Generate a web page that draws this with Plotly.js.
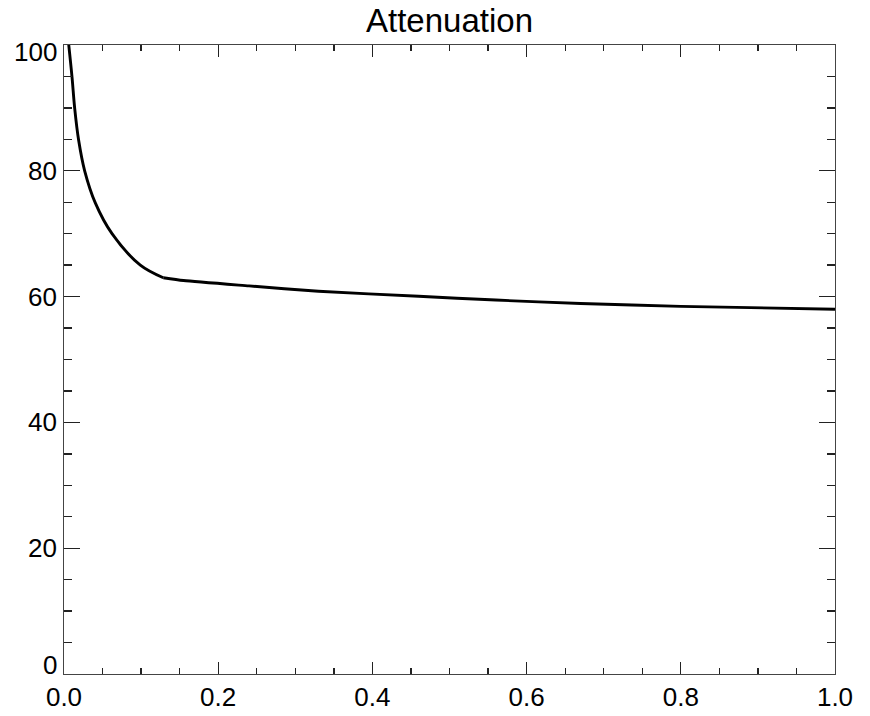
<!DOCTYPE html>
<html>
<head>
<meta charset="utf-8">
<script src="https://cdn.plot.ly/plotly-3.0.1.min.js"></script>
<style>
  html, body { margin: 0; padding: 0; background: #fff; }
  #chart { width: 870px; height: 716px; }
</style>
</head>
<body>
<div id="chart"></div>
<script>
// Steep branch of the attenuation curve, up to the break point
const steepX = [0.0060, 0.0104, 0.0139, 0.0190, 0.0268, 0.0406, 0.0623, 0.0990, 0.1288];
const steepY = [100.2, 94.9, 89.9, 84.85, 80.0, 74.9, 70.0, 65.0, 63.0];

// Slowly decaying branch after the break point
const flatX = [0.1288, 0.155, 0.24, 0.33, 0.46, 0.56, 0.67, 0.80, 1.00];
const flatY = [63.0, 62.55, 61.7, 60.85, 60.05, 59.45, 58.9, 58.45, 58.0];

// Axis tick values and labels
const xTickVals = [0, 0.2, 0.4, 0.6, 0.8, 1.0];
const xTickText = ['0.0', '0.2', '0.4', '0.6', '0.8', '1.0'];
const yTickVals = [0, 20, 40, 60, 80, 100];
const yTickText = ['0', '20', '40', '60', '80', '100'];

const FONT = 'Liberation Sans, Arial, sans-serif';

const traces = [
  { x: steepX, y: steepY, mode: 'lines', hoverinfo: 'skip',
    line: { color: '#000', width: 2.9, shape: 'spline', smoothing: 1 } },
  { x: flatX, y: flatY, mode: 'lines', hoverinfo: 'skip',
    line: { color: '#000', width: 2.9, shape: 'spline', smoothing: 0.6 } }
];

// Y labels drawn as annotations so the end labels can sit inside the frame
const yLabels = yTickVals.map((v, i) => ({
  xref: 'paper', yref: 'y', x: 0, y: v,
  text: yTickText[i], showarrow: false,
  xanchor: 'right', yanchor: 'middle', xshift: -5,
  yshift: v === 100 ? -7 : (v === 0 ? 9 : 0),
  font: { family: FONT, size: 26, color: '#000' }
}));

const layout = {
  width: 870, height: 716,
  margin: { l: 64, r: 35, t: 45, b: 42 },
  paper_bgcolor: '#fff', plot_bgcolor: '#fff',
  showlegend: false,
  font: { family: FONT, color: '#000' },
  title: {
    text: 'Attenuation',
    font: { family: FONT, size: 33, color: '#000' },
    x: 0.5, xref: 'paper', y: 1 - 20 / 716, yref: 'container', yanchor: 'middle'
  },
  xaxis: {
    range: [0, 1], showgrid: false, zeroline: false,
    showline: true, linecolor: '#444', linewidth: 1.2, mirror: 'ticks',
    ticks: 'inside', ticklen: 12, tickwidth: 1.3, tickcolor: '#222',
    tickvals: xTickVals, ticktext: xTickText,
    tickfont: { family: FONT, size: 26, color: '#000' },
    minor: { dtick: 0.05, ticks: 'inside', ticklen: 6, tickwidth: 1.3, tickcolor: '#222', showgrid: false }
  },
  yaxis: {
    range: [0, 100], showgrid: false, zeroline: false,
    showline: true, linecolor: '#444', linewidth: 1.2, mirror: 'ticks',
    ticks: 'inside', ticklen: 16, tickwidth: 1.3, tickcolor: '#222',
    tickvals: yTickVals, showticklabels: false,
    minor: { dtick: 5, ticks: 'inside', ticklen: 8, tickwidth: 1.3, tickcolor: '#222', showgrid: false }
  },
  annotations: yLabels
};

Plotly.newPlot('chart', traces, layout, { staticPlot: true, displayModeBar: false });
</script>
</body>
</html>
